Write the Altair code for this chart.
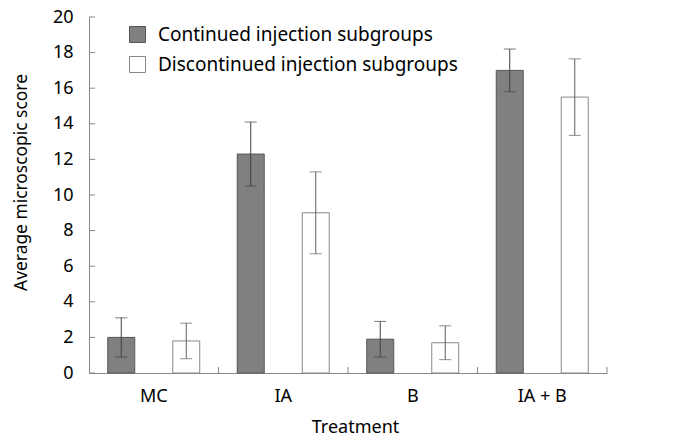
import altair as alt
import pandas as pd

categories = ["MC", "IA", "B", "IA + B"]
series = ["Continued injection subgroups", "Discontinued injection subgroups"]
continued = [2.0, 12.3, 1.9, 17.0]
continued_err = [1.1, 1.8, 1.0, 1.2]
discontinued = [1.8, 9.0, 1.7, 15.5]
discontinued_err = [1.0, 2.3, 0.95, 2.15]
y_ticks = [0, 2, 4, 6, 8, 10, 12, 14, 16, 18, 20]

rows = []
for i, c in enumerate(categories):
    rows.append({"cat": c, "series": series[0], "val": continued[i], "err": continued_err[i]})
    rows.append({"cat": c, "series": series[1], "val": discontinued[i], "err": discontinued_err[i]})
df = pd.DataFrame(rows)
df["lo"] = df["val"] - df["err"]
df["hi"] = df["val"] + df["err"]

W, H = 518, 356
FONT = "Noto Sans"
LFS = 18
TFS = 17.4
LEGFS = 19

xscale = alt.Scale(domain=categories, paddingInner=0, paddingOuter=0)
offscale = alt.Scale(domain=series, paddingInner=0.585, paddingOuter=0.2885)
yscale = alt.Scale(domain=[0, 20], nice=False)

xaxis = alt.Axis(title="Treatment", labelAngle=0, tickSize=0, domainColor="#888888",
                 labelPadding=14, titlePadding=13, titleX=266)
yaxis = alt.Axis(title="Average microscopic score", values=y_ticks, tickSize=0,
                 labelOverlap=False, domainColor="#888888", labelPadding=16,
                 titlePadding=22, titleY=165, grid=False)

legend = alt.Legend(title=None, orient="none", legendX=39, legendY=8,
                    symbolType="square", symbolSize=256, labelFontSize=LEGFS,
                    labelFont=FONT, rowPadding=9, labelOffset=11, labelLimit=0,
                    symbolStrokeWidth=1)

base = alt.Chart(df)

bars = base.mark_bar(strokeWidth=1).encode(
    x=alt.X("cat:N", scale=xscale, sort=categories, axis=xaxis),
    xOffset=alt.XOffset("series:N", scale=offscale, sort=series),
    y=alt.Y("val:Q", scale=yscale, axis=yaxis),
    fill=alt.Fill("series:N", scale=alt.Scale(domain=series, range=["#808080", "#ffffff"]),
                  legend=legend),
    stroke=alt.Stroke("series:N", scale=alt.Scale(domain=series, range=["#555555", "#888888"]),
                      legend=legend),
)

errcolor = alt.condition(alt.datum.series == series[0], alt.value("#404040"), alt.value("#606060"))

err_rule = base.mark_rule(strokeWidth=1).encode(
    x=alt.X("cat:N", scale=xscale, sort=categories, axis=xaxis),
    xOffset=alt.XOffset("series:N", scale=offscale, sort=series),
    y=alt.Y("lo:Q", scale=yscale, axis=yaxis),
    y2="hi:Q",
    color=errcolor,
)
cap_lo = base.mark_tick(size=12, thickness=1, orient="horizontal").encode(
    x=alt.X("cat:N", scale=xscale, sort=categories, axis=xaxis),
    xOffset=alt.XOffset("series:N", scale=offscale, sort=series),
    y=alt.Y("lo:Q", scale=yscale, axis=yaxis),
    color=errcolor,
)
cap_hi = base.mark_tick(size=12, thickness=1, orient="horizontal").encode(
    x=alt.X("cat:N", scale=xscale, sort=categories, axis=xaxis),
    xOffset=alt.XOffset("series:N", scale=offscale, sort=series),
    y=alt.Y("hi:Q", scale=yscale, axis=yaxis),
    color=errcolor,
)

ytick_df = pd.DataFrame({"v": y_ticks})
yticks = alt.Chart(ytick_df).mark_rule(color="#888888", strokeWidth=1).encode(
    y=alt.Y("v:Q", scale=yscale, axis=yaxis),
    x=alt.value(0),
    x2=alt.value(6),
)
xtick_df = pd.DataFrame({"cat": categories})
xticks = alt.Chart(xtick_df).mark_rule(color="#888888", strokeWidth=1).encode(
    x=alt.X("cat:N", scale=xscale, sort=categories, bandPosition=1, axis=xaxis),
    y=alt.value(H),
    y2=alt.value(H - 6),
)

chart = alt.layer(bars, err_rule, cap_lo, cap_hi, yticks, xticks).properties(
    width=W, height=H,
    autosize=alt.AutoSizeParams(type="none"),
    padding={"left": 81, "top": 9, "right": 76, "bottom": 72},
).configure_view(stroke=None).configure_axis(
    labelFont=FONT, titleFont=FONT, labelFontSize=LFS, titleFontSize=TFS,
    labelColor="#000000", titleColor="#000000", titleFontWeight="normal", domainWidth=1,
).configure_axisX(titleFontSize=LFS).configure_axisY(labelOverlap=False).configure_legend(labelColor="#000000")

chart.save("out.html", embed_options={"renderer": "svg", "actions": False})
